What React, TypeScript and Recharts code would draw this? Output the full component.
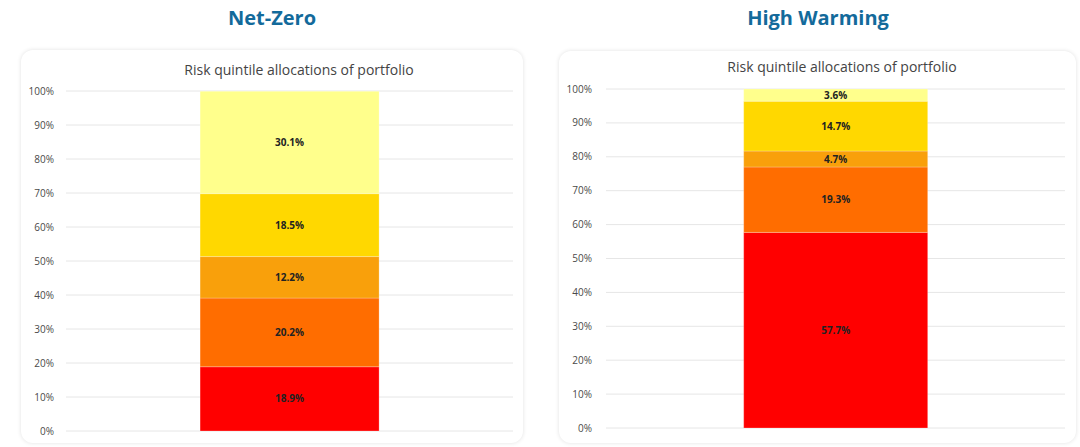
import { BarChart, Bar, XAxis, YAxis, CartesianGrid, LabelList } from 'recharts';

const quintiles = ['q1', 'q2', 'q3', 'q4', 'q5'];
const netZeroValues = [18.9, 20.2, 12.2, 18.5, 30.1];
const highWarmingValues = [57.7, 19.3, 4.7, 14.7, 3.6];
const yTicks = [0, 10, 20, 30, 40, 50, 60, 70, 80, 90, 100];

const COLORS = ['#ff0000', '#ff6d00', '#f9a00b', '#ffd800', '#ffff8c'];

const toRow = (values: number[]) => {
  const row: Record<string, number | string> = { name: 'portfolio' };
  quintiles.forEach((q, i) => {
    row[q] = values[i];
  });
  return [row];
};

interface PanelProps {
  heading: string;
  values: number[];
  left: number;
  top: number;
  width: number;
  height: number;
  margin: { top: number; right: number; bottom: number; left: number };
  yAxisWidth: number;
  tickGap: number;
  titleX: number;
  titleY: number;
  headingX: number;
}

function Panel({
  heading,
  values,
  left,
  top,
  width,
  height,
  margin,
  yAxisWidth,
  tickGap,
  titleX,
  titleY,
  headingX,
}: PanelProps) {
  const data = toRow(values);
  return (
    <>
      <div
        style={{
          position: 'absolute',
          left: headingX - 150,
          width: 300,
          top: 4,
          textAlign: 'center',
          fontFamily: '"Open Sans", sans-serif',
          fontWeight: 700,
          fontSize: 20,
          color: '#136a9b',
        }}
      >
        {heading}
      </div>
      <div
        style={{
          position: 'absolute',
          left,
          top,
          width,
          height,
          background: '#fff',
          borderRadius: 12,
          boxShadow: '0 0 4px rgba(0,0,0,0.12)',
        }}
      >
        <div
          style={{
            position: 'absolute',
            left: titleX - 150,
            width: 300,
            top: titleY - 10,
            textAlign: 'center',
            fontFamily: '"Open Sans", sans-serif',
            fontSize: 14,
            color: '#444',
          }}
        >
          Risk quintile allocations of portfolio
        </div>
        <BarChart
          width={width}
          height={height}
          data={data}
          margin={margin}
          barCategoryGap="30%"
        >
          <CartesianGrid vertical={false} stroke="#e6e6e6" />
          <XAxis dataKey="name" hide />
          <YAxis
            width={yAxisWidth}
            domain={[0, 100]}
            ticks={yTicks}
            interval={0}
            axisLine={false}
            tickLine={false}
            tickMargin={tickGap}
            tickFormatter={v => `${v}%`}
            tick={{ fontSize: 10, fill: '#4a4a4a', fontFamily: '"Open Sans", sans-serif' }}
          />
          {quintiles.map((q, i) => (
            <Bar
              key={q}
              dataKey={q}
              stackId="a"
              fill={COLORS[i]}
              stroke="#ffffff"
              strokeOpacity={0.4}
              strokeWidth={0.6}
              isAnimationActive={false}
            >
              <LabelList
                dataKey={q}
                position="center"
                formatter={(v: any) => `${v}%`}
                style={{
                  fontSize: 10,
                  fontWeight: 700,
                  fill: '#222',
                  fontFamily: '"Open Sans", sans-serif',
                }}
              />
            </Bar>
          ))}
        </BarChart>
      </div>
    </>
  );
}

export default function App() {
  return (
    <div
      style={{
        position: 'absolute',
        left: 0,
        top: 0,
        width: 1080,
        height: 447,
        background: '#fff',
        overflow: 'hidden',
      }}
    >
      <Panel
        heading="Net-Zero"
        values={netZeroValues}
        left={21}
        top={50}
        width={502}
        height={393}
        margin={{ top: 41, right: 10, bottom: 12, left: 5 }}
        yAxisWidth={40}
        tickGap={6}
        titleX={278}
        titleY={20}
        headingX={272}
      />
      <Panel
        heading="High Warming"
        values={highWarmingValues}
        left={559}
        top={51}
        width={517}
        height={392}
        margin={{ top: 38, right: 11, bottom: 15, left: 7 }}
        yAxisWidth={40}
        tickGap={8}
        titleX={283}
        titleY={16}
        headingX={818}
      />
    </div>
  );
}
